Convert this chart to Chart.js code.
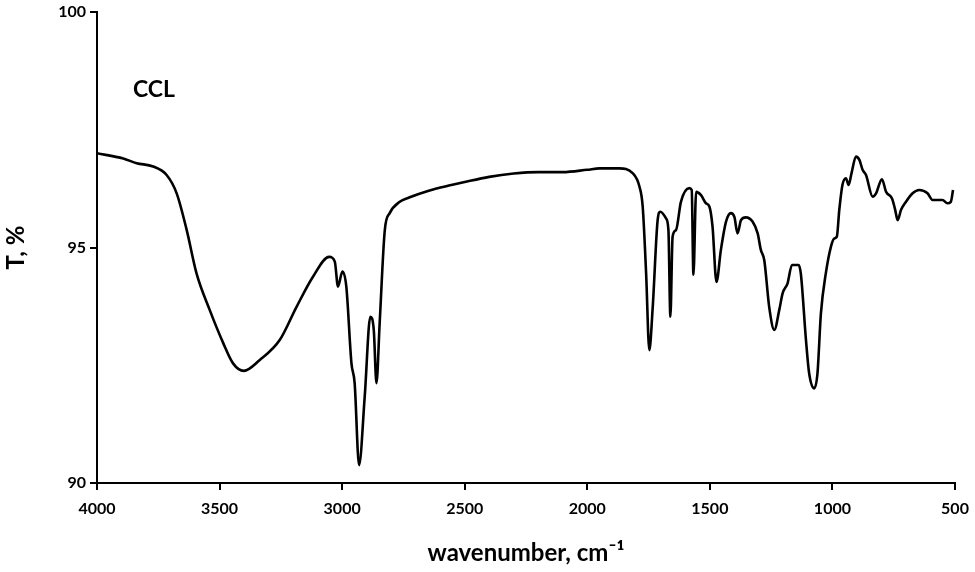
<!DOCTYPE html>
<html>
<head>
<meta charset="utf-8">
<script src="https://cdn.jsdelivr.net/npm/chart.js@4.4.1/dist/chart.umd.min.js"></script>
<style>
  body { margin: 0; background: #fff; }
  #wrap { width: 975px; height: 572px; }
</style>
</head>
<body>
<div id="wrap"><canvas id="ftir" width="975" height="572"></canvas></div>
<script>
// FTIR spectrum values
const wavenumbers = [
  4000, 3893, 3838, 3771, 3716, 3675, 3634, 3594, 3540, 3485, 3445, 3401, 3336, 3254, 3186, 3119,
  3053, 3030, 3017, 2999, 2983, 2962, 2949, 2931, 2908, 2885, 2871, 2860, 2847, 2826, 2806, 2765,
  2727, 2650, 2550, 2500, 2400, 2300, 2200, 2100, 2000, 1950, 1869, 1815, 1787, 1774, 1760, 1747,
  1733, 1713, 1702, 1679, 1669, 1661, 1652, 1638, 1618, 1584, 1574, 1567, 1556, 1536, 1516, 1502,
  1489, 1473, 1455, 1434, 1414, 1400, 1387, 1373, 1353, 1326, 1305, 1292, 1278, 1258, 1237, 1217,
  1203, 1183, 1165, 1138, 1129, 1108, 1095, 1074, 1061, 1047, 1027, 1006, 993, 982, 972, 959,
  945, 934, 922, 904, 890, 877, 863, 836, 822, 798, 781, 757, 744, 734, 720, 700,
  673, 646, 612, 592, 551, 531, 517, 508
];
const transmittance = [
  97.0, 96.89, 96.79, 96.72, 96.54, 96.15, 95.37, 94.45, 93.67, 92.97, 92.54, 92.38, 92.61, 93.04, 93.74, 94.38,
  94.8, 94.7, 94.17, 94.49, 94.17, 92.54, 92.12, 90.38, 91.83, 93.53, 93.25, 92.12, 93.39, 95.37, 95.73, 95.97,
  96.06, 96.2, 96.33, 96.39, 96.5, 96.57, 96.6, 96.6, 96.65, 96.68, 96.68, 96.58, 96.29, 95.87, 94.45, 92.82,
  93.74, 95.58, 95.76, 95.62, 95.37, 93.53, 95.23, 95.37, 95.97, 96.26, 96.22, 94.42, 96.18, 96.11, 95.94, 95.87,
  95.44, 94.27, 94.95, 95.55, 95.73, 95.65, 95.3, 95.58, 95.64, 95.55, 95.3, 94.95, 94.73, 93.74, 93.25, 93.67,
  94.03, 94.24, 94.63, 94.63, 94.45, 93.04, 92.33, 92.01, 92.33, 93.6, 94.45, 95.02, 95.19, 95.23, 95.8, 96.33,
  96.47, 96.33, 96.58, 96.93, 96.86, 96.65, 96.54, 96.08, 96.15, 96.45, 96.18, 96.04, 95.8, 95.58, 95.8, 95.97,
  96.15, 96.22, 96.15, 96.01, 96.01, 95.94, 95.97, 96.22
];
const yTicks = [90, 95, 100];
const xTicks = [4000, 3500, 3000, 2500, 2000, 1500, 1000, 500];
const sampleLabel = 'CCL';

const points = wavenumbers.map((w, i) => ({ x: w, y: transmittance[i] }));
const tickFont = { family: 'Lato', weight: 'bold', size: 16 };
const titleFont = { family: 'Lato', weight: 'bold', size: 24 };

new Chart(document.getElementById('ftir'), {
  type: 'line',
  data: {
    datasets: [{
      data: points,
      borderColor: '#000',
      borderWidth: 2.6,
      pointRadius: 0,
      cubicInterpolationMode: 'monotone',
      fill: false
    }]
  },
  options: {
    responsive: false,
    animation: false,
    layout: { padding: { top: 12, right: 20, left: 0, bottom: 0 } },
    plugins: { legend: { display: false }, tooltip: { enabled: false } },
    scales: {
      x: {
        type: 'linear',
        reverse: true,
        min: 500,
        max: 4000,
        afterFit: (s) => { s.height = 89; s.paddingLeft = 0; s.paddingRight = 0; },
        afterBuildTicks: (s) => { s.ticks = xTicks.map(v => ({ value: v })); },
        grid: { drawOnChartArea: false, drawTicks: true, tickLength: 7, color: '#000', lineWidth: 2 },
        border: { color: '#000', width: 2 },
        ticks: { color: '#000', font: tickFont, padding: 9, maxRotation: 0, callback: (v) => String(v) },
        title: {
          display: true,
          text: 'wavenumber, cm\u207B\u00B9',
          color: '#000',
          font: titleFont,
          padding: { top: 6 }
        }
      },
      y: {
        min: 90,
        max: 100,
        afterFit: (s) => { s.width = 97; s.paddingTop = 0; s.paddingBottom = 0; },
        afterBuildTicks: (s) => { s.ticks = yTicks.map(v => ({ value: v })); },
        grid: { drawOnChartArea: false, drawTicks: true, tickLength: 7, color: '#000', lineWidth: 2 },
        border: { color: '#000', width: 2 },
        ticks: { color: '#000', font: tickFont, padding: 4, callback: (v) => String(v) },
        title: {
          display: true,
          text: 'T, %',
          color: '#000',
          font: titleFont,
          padding: { top: 2, bottom: 0 }
        }
      }
    }
  },
  plugins: [{
    id: 'sampleTag',
    afterDraw: (chart) => {
      const ctx = chart.ctx;
      ctx.save();
      ctx.fillStyle = '#000';
      ctx.font = 'bold 23px Lato';
      ctx.textBaseline = 'middle';
      ctx.fillText(sampleLabel, 133, 90);
      ctx.restore();
    }
  }]
});
</script>
</body>
</html>
